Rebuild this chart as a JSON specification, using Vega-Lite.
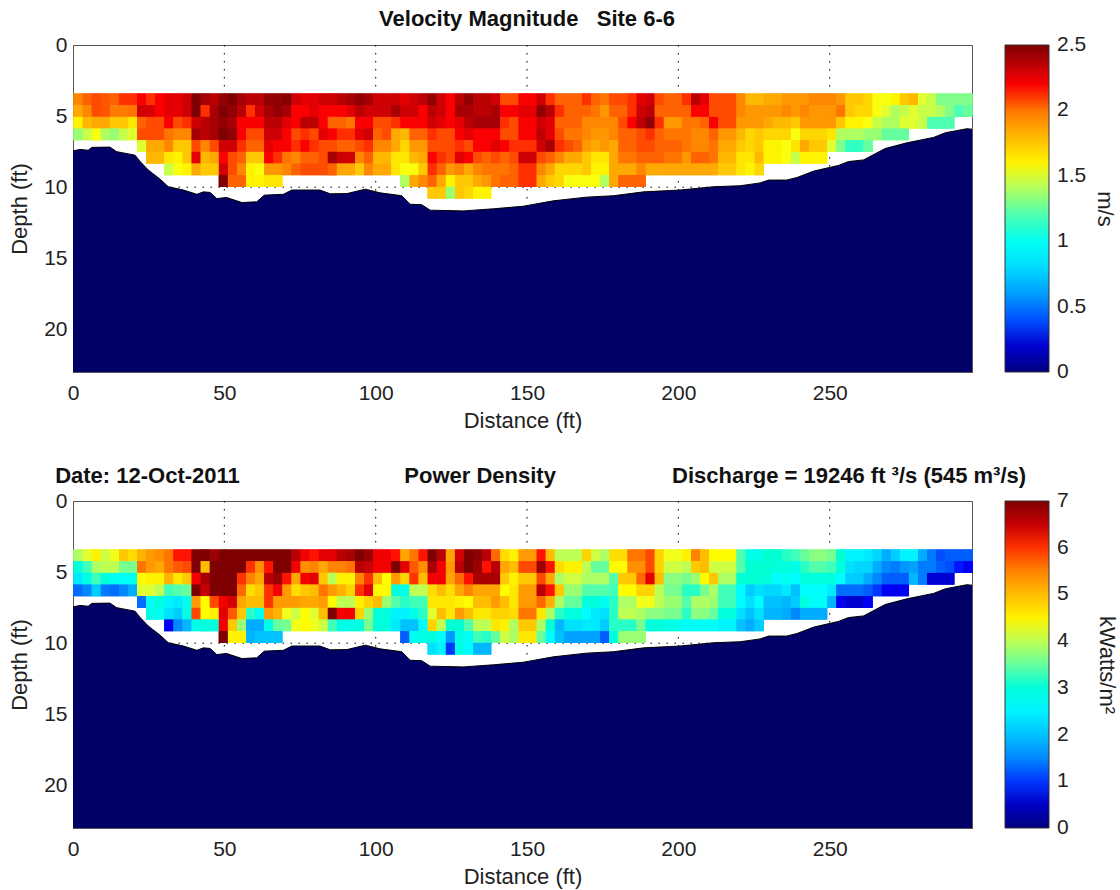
{"$schema":"https://vega.github.io/schema/vega-lite/v6.json","background":"white","padding":{"left":8,"top":7,"right":2,"bottom":5},"spacing":32,
"config":{"font":"Liberation Sans","view":{"stroke":"#555","strokeWidth":1},"axis":{"labelFontSize":21,"titleFontSize":22,"titleFontWeight":"normal","labelColor":"#222","titleColor":"#222","grid":false,"domainColor":"#555","tickColor":"#000","tickSize":0,"labelPadding":6,"labelFlush":false},"legend":{"labelFontSize":21,"titleFontSize":22,"titleFontWeight":"normal","labelColor":"#222","titleColor":"#222"}},
"datasets":{"cells":[
{"x":1.5,"d":3.79,"v":1.95,"p":3.9},{"x":4.5,"d":3.79,"v":2.05,"p":4.2},{"x":7.5,"d":3.79,"v":2.1,"p":4.5},{"x":10.5,"d":3.79,"v":2.08,"p":4.1},{"x":13.5,"d":3.79,"v":2.05,"p":4.3},{"x":16.5,"d":3.79,"v":2.15,"p":4.9},{"x":19.5,"d":3.79,"v":2.15,"p":4.7},{"x":22.5,"d":3.79,"v":2.2,"p":5.1},{"x":25.5,"d":3.79,"v":2.15,"p":5.3},{"x":28.5,"d":3.79,"v":2.2,"p":5.4},{"x":31.5,"d":3.79,"v":2.25,"p":5.6},{"x":34.5,"d":3.79,"v":2.25,"p":6.1},{"x":37.5,"d":3.79,"v":2.3,"p":6.1},{"x":40.5,"d":3.79,"v":2.5,"p":7},{"x":43.5,"d":3.79,"v":2.4,"p":7},{"x":46.5,"d":3.79,"v":2.35,"p":6.8},{"x":49.5,"d":3.79,"v":2.45,"p":7},{"x":52.5,"d":3.79,"v":2.5,"p":7},{"x":55.5,"d":3.79,"v":2.4,"p":7},{"x":58.5,"d":3.79,"v":2.35,"p":7},{"x":61.5,"d":3.79,"v":2.35,"p":7},{"x":64.5,"d":3.79,"v":2.45,"p":7},{"x":67.5,"d":3.79,"v":2.45,"p":7},{"x":70.5,"d":3.79,"v":2.48,"p":7},{"x":73.5,"d":3.79,"v":2.3,"p":6.6},{"x":76.5,"d":3.79,"v":2.25,"p":6.2},{"x":79.5,"d":3.79,"v":2.25,"p":6.1},{"x":82.5,"d":3.79,"v":2.3,"p":6.3},{"x":85.5,"d":3.79,"v":2.3,"p":6.3},{"x":88.5,"d":3.79,"v":2.35,"p":6.6},{"x":91.5,"d":3.79,"v":2.4,"p":6.7},{"x":94.5,"d":3.79,"v":2.45,"p":7},{"x":97.5,"d":3.79,"v":2.4,"p":6.8},{"x":100.5,"d":3.79,"v":2.3,"p":6.2},{"x":103.5,"d":3.79,"v":2.3,"p":6.2},{"x":106.5,"d":3.79,"v":2.3,"p":6.1},{"x":109.5,"d":3.79,"v":2.25,"p":5.2},{"x":112.5,"d":3.79,"v":2.3,"p":5.6},{"x":115.5,"d":3.79,"v":2.35,"p":6.1},{"x":118.5,"d":3.79,"v":2.45,"p":7},{"x":121.5,"d":3.79,"v":2.3,"p":6.6},{"x":124.5,"d":3.79,"v":2.2,"p":5.2},{"x":127.5,"d":3.79,"v":2.35,"p":6.4},{"x":130.5,"d":3.79,"v":2.45,"p":7},{"x":133.5,"d":3.79,"v":2.35,"p":6.9},{"x":136.5,"d":3.79,"v":2.35,"p":6.6},{"x":139.5,"d":3.79,"v":2.3,"p":5.7},{"x":142.5,"d":3.79,"v":2.1,"p":4.7},{"x":145.5,"d":3.79,"v":2.1,"p":4.5},{"x":148.5,"d":3.79,"v":2.2,"p":5.3},{"x":151.5,"d":3.79,"v":2.2,"p":5.3},{"x":154.5,"d":3.79,"v":2.3,"p":6.1},{"x":157.5,"d":3.79,"v":2.15,"p":5},{"x":160.5,"d":3.79,"v":2.05,"p":4},{"x":163.5,"d":3.79,"v":2.05,"p":4},{"x":166.5,"d":3.79,"v":2.05,"p":4},{"x":169.5,"d":3.79,"v":2.15,"p":4.8},{"x":172.5,"d":3.79,"v":2.05,"p":4.1},{"x":175.5,"d":3.79,"v":2,"p":3.9},{"x":178.5,"d":3.79,"v":2.1,"p":4.7},{"x":181.5,"d":3.79,"v":2.1,"p":4.7},{"x":184.5,"d":3.79,"v":2.15,"p":5.6},{"x":187.5,"d":3.79,"v":2.25,"p":5.6},{"x":190.5,"d":3.79,"v":2.3,"p":5.9},{"x":193.5,"d":3.79,"v":2.1,"p":4.8},{"x":196.5,"d":3.79,"v":2.05,"p":4.3},{"x":199.5,"d":3.79,"v":2.05,"p":4.3},{"x":202.5,"d":3.79,"v":2.15,"p":4.5},{"x":205.5,"d":3.79,"v":2.35,"p":5.5},{"x":208.5,"d":3.79,"v":2.25,"p":5},{"x":211.5,"d":3.79,"v":2.1,"p":4.4},{"x":214.5,"d":3.79,"v":2.1,"p":4.4},{"x":217.5,"d":3.79,"v":2.1,"p":4.4},{"x":220.5,"d":3.79,"v":1.95,"p":3.4},{"x":223.5,"d":3.79,"v":1.8,"p":2.9},{"x":226.5,"d":3.79,"v":1.8,"p":2.9},{"x":229.5,"d":3.79,"v":1.85,"p":3.1},{"x":232.5,"d":3.79,"v":1.85,"p":3.1},{"x":235.5,"d":3.79,"v":1.9,"p":3.2},{"x":238.5,"d":3.79,"v":1.9,"p":3.3},{"x":241.5,"d":3.79,"v":1.9,"p":3.5},{"x":244.5,"d":3.79,"v":1.95,"p":3.7},{"x":247.5,"d":3.79,"v":1.95,"p":3.7},{"x":250.5,"d":3.79,"v":1.95,"p":3.6},{"x":253.5,"d":3.79,"v":1.9,"p":3.1},{"x":256.5,"d":3.79,"v":1.75,"p":2.5},{"x":259.5,"d":3.79,"v":1.75,"p":2.5},{"x":262.5,"d":3.79,"v":1.7,"p":2.4},{"x":265.5,"d":3.79,"v":1.55,"p":2.2},{"x":268.5,"d":3.79,"v":1.55,"p":1.8},{"x":271.5,"d":3.79,"v":1.6,"p":2.1},{"x":274.5,"d":3.79,"v":1.75,"p":2.5},{"x":277.5,"d":3.79,"v":1.8,"p":2.5},{"x":280.5,"d":3.79,"v":1.5,"p":1.8},{"x":283.5,"d":3.79,"v":1.45,"p":1.4},{"x":286.5,"d":3.79,"v":1.3,"p":1.1},{"x":289.5,"d":3.79,"v":1.3,"p":1.2},{"x":292.5,"d":3.79,"v":1.3,"p":1.2},{"x":295.5,"d":3.79,"v":1.3,"p":1.2},
{"x":1.5,"d":4.61,"v":1.85,"p":3},{"x":4.5,"d":4.61,"v":1.95,"p":3.3},{"x":7.5,"d":4.61,"v":2.1,"p":3.9},{"x":10.5,"d":4.61,"v":2.08,"p":4},{"x":13.5,"d":4.61,"v":1.98,"p":4},{"x":16.5,"d":4.61,"v":1.98,"p":3.6},{"x":19.5,"d":4.61,"v":2,"p":3.6},{"x":22.5,"d":4.61,"v":2.3,"p":5.6},{"x":25.5,"d":4.61,"v":2.28,"p":5.3},{"x":28.5,"d":4.61,"v":2.2,"p":5.2},{"x":31.5,"d":4.61,"v":2.25,"p":5.6},{"x":34.5,"d":4.61,"v":2.25,"p":5.8},{"x":37.5,"d":4.61,"v":2.3,"p":5.9},{"x":40.5,"d":4.61,"v":2.5,"p":7},{"x":43.5,"d":4.61,"v":2.15,"p":5},{"x":46.5,"d":4.61,"v":2.4,"p":7},{"x":49.5,"d":4.61,"v":2.5,"p":7},{"x":52.5,"d":4.61,"v":2.45,"p":7},{"x":55.5,"d":4.61,"v":2.35,"p":7},{"x":58.5,"d":4.61,"v":2.15,"p":6},{"x":61.5,"d":4.61,"v":2.3,"p":5.4},{"x":64.5,"d":4.61,"v":2.4,"p":6.1},{"x":67.5,"d":4.61,"v":2.45,"p":7},{"x":70.5,"d":4.61,"v":2.4,"p":7},{"x":73.5,"d":4.61,"v":2.2,"p":6.2},{"x":76.5,"d":4.61,"v":2.2,"p":5.4},{"x":79.5,"d":4.61,"v":2.25,"p":5.5},{"x":82.5,"d":4.61,"v":2.2,"p":5.2},{"x":85.5,"d":4.61,"v":2.2,"p":5.5},{"x":88.5,"d":4.61,"v":2.2,"p":5.5},{"x":91.5,"d":4.61,"v":2.25,"p":5.6},{"x":94.5,"d":4.61,"v":2.35,"p":6.6},{"x":97.5,"d":4.61,"v":2.3,"p":6.5},{"x":100.5,"d":4.61,"v":2.3,"p":6.2},{"x":103.5,"d":4.61,"v":2.3,"p":6.2},{"x":106.5,"d":4.61,"v":2.4,"p":7},{"x":109.5,"d":4.61,"v":2.3,"p":6.3},{"x":112.5,"d":4.61,"v":2.3,"p":5.8},{"x":115.5,"d":4.61,"v":2.2,"p":5.4},{"x":118.5,"d":4.61,"v":2.35,"p":6.7},{"x":121.5,"d":4.61,"v":2.3,"p":6.2},{"x":124.5,"d":4.61,"v":2.2,"p":5.3},{"x":127.5,"d":4.61,"v":2.4,"p":6.6},{"x":130.5,"d":4.61,"v":2.4,"p":7},{"x":133.5,"d":4.61,"v":2.35,"p":6.8},{"x":136.5,"d":4.61,"v":2.35,"p":6.1},{"x":139.5,"d":4.61,"v":2.4,"p":6.6},{"x":142.5,"d":4.61,"v":2.2,"p":5.2},{"x":145.5,"d":4.61,"v":2.2,"p":5},{"x":148.5,"d":4.61,"v":2.25,"p":5.9},{"x":151.5,"d":4.61,"v":2.25,"p":5.9},{"x":154.5,"d":4.61,"v":2.45,"p":6.8},{"x":157.5,"d":4.61,"v":2.35,"p":6.1},{"x":160.5,"d":4.61,"v":2.15,"p":4.7},{"x":163.5,"d":4.61,"v":2.05,"p":4.5},{"x":166.5,"d":4.61,"v":2.05,"p":4.5},{"x":169.5,"d":4.61,"v":2.05,"p":4},{"x":172.5,"d":4.61,"v":2,"p":3.5},{"x":175.5,"d":4.61,"v":1.9,"p":3.5},{"x":178.5,"d":4.61,"v":2.05,"p":4.4},{"x":181.5,"d":4.61,"v":2.05,"p":4.4},{"x":184.5,"d":4.61,"v":2.15,"p":5.4},{"x":187.5,"d":4.61,"v":2.3,"p":5.4},{"x":190.5,"d":4.61,"v":2.35,"p":5.9},{"x":193.5,"d":4.61,"v":2.05,"p":4.8},{"x":196.5,"d":4.61,"v":2.05,"p":4.1},{"x":199.5,"d":4.61,"v":2.05,"p":4.1},{"x":202.5,"d":4.61,"v":2.05,"p":4},{"x":205.5,"d":4.61,"v":2.2,"p":4.9},{"x":208.5,"d":4.61,"v":2.2,"p":5},{"x":211.5,"d":4.61,"v":2.1,"p":4.1},{"x":214.5,"d":4.61,"v":2.1,"p":4.1},{"x":217.5,"d":4.61,"v":2.1,"p":4.1},{"x":220.5,"d":4.61,"v":1.95,"p":3.4},{"x":223.5,"d":4.61,"v":1.9,"p":3.1},{"x":226.5,"d":4.61,"v":1.9,"p":3.1},{"x":229.5,"d":4.61,"v":1.9,"p":3.1},{"x":232.5,"d":4.61,"v":1.9,"p":3},{"x":235.5,"d":4.61,"v":1.95,"p":3},{"x":238.5,"d":4.61,"v":1.9,"p":2.9},{"x":241.5,"d":4.61,"v":1.95,"p":3.2},{"x":244.5,"d":4.61,"v":1.9,"p":3.4},{"x":247.5,"d":4.61,"v":1.9,"p":3.4},{"x":250.5,"d":4.61,"v":1.9,"p":3.3},{"x":253.5,"d":4.61,"v":2,"p":3},{"x":256.5,"d":4.61,"v":1.75,"p":2.3},{"x":259.5,"d":4.61,"v":1.7,"p":2.2},{"x":262.5,"d":4.61,"v":1.7,"p":2.2},{"x":265.5,"d":4.61,"v":1.55,"p":1.8},{"x":268.5,"d":4.61,"v":1.5,"p":1.5},{"x":271.5,"d":4.61,"v":1.4,"p":1.4},{"x":274.5,"d":4.61,"v":1.45,"p":1.6},{"x":277.5,"d":4.61,"v":1.5,"p":1.7},{"x":280.5,"d":4.61,"v":1.45,"p":1.4},{"x":283.5,"d":4.61,"v":1.45,"p":1.4},{"x":286.5,"d":4.61,"v":1.4,"p":1.2},{"x":289.5,"d":4.61,"v":1.3,"p":1.1},{"x":292.5,"d":4.61,"v":1.2,"p":0.9},{"x":295.5,"d":4.61,"v":1.25,"p":0.8},
{"x":1.5,"d":5.43,"v":1.6,"p":2.4},{"x":4.5,"d":5.43,"v":1.8,"p":2.9},{"x":7.5,"d":5.43,"v":1.85,"p":3.3},{"x":10.5,"d":5.43,"v":1.85,"p":3},{"x":13.5,"d":5.43,"v":1.75,"p":2.8},{"x":16.5,"d":5.43,"v":1.75,"p":2.7},{"x":19.5,"d":5.43,"v":1.65,"p":2.8},{"x":22.5,"d":5.43,"v":2.05,"p":4.4},{"x":25.5,"d":5.43,"v":2.1,"p":4.5},{"x":28.5,"d":5.43,"v":2.1,"p":4.5},{"x":31.5,"d":5.43,"v":2.2,"p":5.1},{"x":34.5,"d":5.43,"v":2.1,"p":4.6},{"x":37.5,"d":5.43,"v":2.15,"p":4.9},{"x":40.5,"d":5.43,"v":2.3,"p":6.2},{"x":43.5,"d":5.43,"v":2.35,"p":6.7},{"x":46.5,"d":5.43,"v":2.4,"p":7},{"x":49.5,"d":5.43,"v":2.45,"p":7},{"x":52.5,"d":5.43,"v":2.4,"p":7},{"x":55.5,"d":5.43,"v":2.2,"p":6},{"x":58.5,"d":5.43,"v":2.2,"p":5.5},{"x":61.5,"d":5.43,"v":2.2,"p":5.2},{"x":64.5,"d":5.43,"v":2.35,"p":6.6},{"x":67.5,"d":5.43,"v":2.35,"p":6.8},{"x":70.5,"d":5.43,"v":2.25,"p":6.1},{"x":73.5,"d":5.43,"v":2.2,"p":5.2},{"x":76.5,"d":5.43,"v":2.35,"p":6.2},{"x":79.5,"d":5.43,"v":2.35,"p":6.3},{"x":82.5,"d":5.43,"v":2.2,"p":4.9},{"x":85.5,"d":5.43,"v":2.05,"p":4},{"x":88.5,"d":5.43,"v":2.05,"p":4.5},{"x":91.5,"d":5.43,"v":2,"p":4.5},{"x":94.5,"d":5.43,"v":2.2,"p":5.5},{"x":97.5,"d":5.43,"v":2.2,"p":6},{"x":100.5,"d":5.43,"v":2.1,"p":5},{"x":103.5,"d":5.43,"v":2.1,"p":4.4},{"x":106.5,"d":5.43,"v":2.15,"p":5.3},{"x":109.5,"d":5.43,"v":2.2,"p":4.8},{"x":112.5,"d":5.43,"v":2.2,"p":6},{"x":115.5,"d":5.43,"v":2.2,"p":5},{"x":118.5,"d":5.43,"v":2.3,"p":6.2},{"x":121.5,"d":5.43,"v":2.25,"p":6.2},{"x":124.5,"d":5.43,"v":2.2,"p":5.2},{"x":127.5,"d":5.43,"v":2.25,"p":5.7},{"x":130.5,"d":5.43,"v":2.35,"p":6.1},{"x":133.5,"d":5.43,"v":2.4,"p":6.7},{"x":136.5,"d":5.43,"v":2.4,"p":6.7},{"x":139.5,"d":5.43,"v":2.4,"p":6.7},{"x":142.5,"d":5.43,"v":2.15,"p":4.9},{"x":145.5,"d":5.43,"v":2.1,"p":4.5},{"x":148.5,"d":5.43,"v":2.2,"p":4.9},{"x":151.5,"d":5.43,"v":2.2,"p":4.9},{"x":154.5,"d":5.43,"v":2.3,"p":5.9},{"x":157.5,"d":5.43,"v":2.25,"p":5.2},{"x":160.5,"d":5.43,"v":2.05,"p":3.9},{"x":163.5,"d":5.43,"v":2.05,"p":4.1},{"x":166.5,"d":5.43,"v":2.05,"p":4.1},{"x":169.5,"d":5.43,"v":1.95,"p":3.9},{"x":172.5,"d":5.43,"v":1.95,"p":3.9},{"x":175.5,"d":5.43,"v":1.95,"p":3.9},{"x":178.5,"d":5.43,"v":1.95,"p":3.4},{"x":181.5,"d":5.43,"v":2.1,"p":4.9},{"x":184.5,"d":5.43,"v":2.2,"p":4.9},{"x":187.5,"d":5.43,"v":2.35,"p":5.7},{"x":190.5,"d":5.43,"v":2.45,"p":6.3},{"x":193.5,"d":5.43,"v":2.15,"p":5},{"x":196.5,"d":5.43,"v":1.9,"p":3.7},{"x":199.5,"d":5.43,"v":1.9,"p":3.7},{"x":202.5,"d":5.43,"v":2,"p":3.6},{"x":205.5,"d":5.43,"v":2,"p":3.8},{"x":208.5,"d":5.43,"v":2.05,"p":4.4},{"x":211.5,"d":5.43,"v":2.2,"p":4.9},{"x":214.5,"d":5.43,"v":2.1,"p":3.9},{"x":217.5,"d":5.43,"v":2.1,"p":3.9},{"x":220.5,"d":5.43,"v":1.9,"p":3.1},{"x":223.5,"d":5.43,"v":1.9,"p":3.1},{"x":226.5,"d":5.43,"v":1.9,"p":3.1},{"x":229.5,"d":5.43,"v":1.85,"p":3},{"x":232.5,"d":5.43,"v":1.8,"p":2.6},{"x":235.5,"d":5.43,"v":1.8,"p":2.8},{"x":238.5,"d":5.43,"v":1.75,"p":2.6},{"x":241.5,"d":5.43,"v":1.9,"p":3},{"x":244.5,"d":5.43,"v":1.9,"p":3},{"x":247.5,"d":5.43,"v":1.9,"p":3},{"x":250.5,"d":5.43,"v":1.9,"p":3},{"x":253.5,"d":5.43,"v":1.75,"p":2.6},{"x":256.5,"d":5.43,"v":1.6,"p":2.1},{"x":259.5,"d":5.43,"v":1.6,"p":2.1},{"x":262.5,"d":5.43,"v":1.55,"p":1.8},{"x":265.5,"d":5.43,"v":1.45,"p":1.5},{"x":268.5,"d":5.43,"v":1.4,"p":1.2},{"x":271.5,"d":5.43,"v":1.4,"p":1.2},{"x":274.5,"d":5.43,"v":1.5,"p":1.2},{"x":277.5,"d":5.43,"v":1.5,"p":1.9},{"x":280.5,"d":5.43,"v":1.45,"p":1.4},{"x":283.5,"d":5.43,"v":1.2,"p":0.6},{"x":286.5,"d":5.43,"v":1.2,"p":0.6},{"x":289.5,"d":5.43,"v":1.2,"p":0.6},
{"x":1.5,"d":6.25,"v":1.35,"p":1.3},{"x":4.5,"d":6.25,"v":1.45,"p":1.5},{"x":7.5,"d":6.25,"v":1.55,"p":2.1},{"x":10.5,"d":6.25,"v":1.4,"p":1.4},{"x":13.5,"d":6.25,"v":1.35,"p":1.3},{"x":16.5,"d":6.25,"v":1.45,"p":1.5},{"x":19.5,"d":6.25,"v":1.5,"p":1.8},{"x":22.5,"d":6.25,"v":2.1,"p":4.2},{"x":25.5,"d":6.25,"v":2.1,"p":4.2},{"x":28.5,"d":6.25,"v":2.1,"p":4},{"x":31.5,"d":6.25,"v":2,"p":3.3},{"x":34.5,"d":6.25,"v":1.95,"p":3.4},{"x":37.5,"d":6.25,"v":1.95,"p":3.5},{"x":40.5,"d":6.25,"v":2.4,"p":7},{"x":43.5,"d":6.25,"v":2.35,"p":6.5},{"x":46.5,"d":6.25,"v":2.4,"p":7},{"x":49.5,"d":6.25,"v":2.5,"p":7},{"x":52.5,"d":6.25,"v":2.45,"p":7},{"x":55.5,"d":6.25,"v":2.2,"p":5.7},{"x":58.5,"d":6.25,"v":2.1,"p":4.7},{"x":61.5,"d":6.25,"v":2.1,"p":4.9},{"x":64.5,"d":6.25,"v":2.3,"p":6},{"x":67.5,"d":6.25,"v":2.3,"p":6.2},{"x":70.5,"d":6.25,"v":2.2,"p":5.3},{"x":73.5,"d":6.25,"v":2.1,"p":4.7},{"x":76.5,"d":6.25,"v":2.15,"p":4.9},{"x":79.5,"d":6.25,"v":2.1,"p":5},{"x":82.5,"d":6.25,"v":2.25,"p":5.6},{"x":85.5,"d":6.25,"v":2.2,"p":5.3},{"x":88.5,"d":6.25,"v":2.15,"p":5.1},{"x":91.5,"d":6.25,"v":2.15,"p":4.8},{"x":94.5,"d":6.25,"v":2.25,"p":6},{"x":97.5,"d":6.25,"v":2.3,"p":6.3},{"x":100.5,"d":6.25,"v":2.05,"p":4.4},{"x":103.5,"d":6.25,"v":2.1,"p":4.4},{"x":106.5,"d":6.25,"v":1.85,"p":3},{"x":109.5,"d":6.25,"v":1.8,"p":2.9},{"x":112.5,"d":6.25,"v":2.05,"p":4},{"x":115.5,"d":6.25,"v":2.05,"p":4},{"x":118.5,"d":6.25,"v":2.15,"p":4.7},{"x":121.5,"d":6.25,"v":2.1,"p":5},{"x":124.5,"d":6.25,"v":2.1,"p":4.7},{"x":127.5,"d":6.25,"v":2.2,"p":5.2},{"x":130.5,"d":6.25,"v":2.25,"p":5.5},{"x":133.5,"d":6.25,"v":2.2,"p":5.2},{"x":136.5,"d":6.25,"v":2.2,"p":5.2},{"x":139.5,"d":6.25,"v":2.2,"p":5.2},{"x":142.5,"d":6.25,"v":2.1,"p":4.4},{"x":145.5,"d":6.25,"v":2.1,"p":4.6},{"x":148.5,"d":6.25,"v":2.2,"p":5.3},{"x":151.5,"d":6.25,"v":2.2,"p":5.3},{"x":154.5,"d":6.25,"v":2.35,"p":6.6},{"x":157.5,"d":6.25,"v":2.25,"p":6.1},{"x":160.5,"d":6.25,"v":2.1,"p":4.9},{"x":163.5,"d":6.25,"v":2,"p":3.8},{"x":166.5,"d":6.25,"v":2,"p":3.8},{"x":169.5,"d":6.25,"v":1.95,"p":3.4},{"x":172.5,"d":6.25,"v":1.9,"p":3.4},{"x":175.5,"d":6.25,"v":1.9,"p":3.4},{"x":178.5,"d":6.25,"v":1.95,"p":3.3},{"x":181.5,"d":6.25,"v":2.05,"p":4.4},{"x":184.5,"d":6.25,"v":2.05,"p":4.4},{"x":187.5,"d":6.25,"v":2.1,"p":4.8},{"x":190.5,"d":6.25,"v":2.15,"p":4.8},{"x":193.5,"d":6.25,"v":2.05,"p":4},{"x":196.5,"d":6.25,"v":2,"p":3.6},{"x":199.5,"d":6.25,"v":2,"p":3.6},{"x":202.5,"d":6.25,"v":2,"p":3.2},{"x":205.5,"d":6.25,"v":1.95,"p":3.2},{"x":208.5,"d":6.25,"v":1.95,"p":3.6},{"x":211.5,"d":6.25,"v":2.05,"p":3.9},{"x":214.5,"d":6.25,"v":1.9,"p":3.3},{"x":217.5,"d":6.25,"v":1.9,"p":3.3},{"x":220.5,"d":6.25,"v":1.8,"p":2.6},{"x":223.5,"d":6.25,"v":1.7,"p":2.1},{"x":226.5,"d":6.25,"v":1.75,"p":2.3},{"x":229.5,"d":6.25,"v":1.7,"p":2.2},{"x":232.5,"d":6.25,"v":1.7,"p":2.2},{"x":235.5,"d":6.25,"v":1.7,"p":2.4},{"x":238.5,"d":6.25,"v":1.55,"p":2},{"x":241.5,"d":6.25,"v":1.7,"p":2.6},{"x":244.5,"d":6.25,"v":1.7,"p":2.6},{"x":247.5,"d":6.25,"v":1.7,"p":2.6},{"x":250.5,"d":6.25,"v":1.65,"p":2.4},{"x":253.5,"d":6.25,"v":1.4,"p":1.3},{"x":256.5,"d":6.25,"v":1.4,"p":1.3},{"x":259.5,"d":6.25,"v":1.4,"p":1.3},{"x":262.5,"d":6.25,"v":1.35,"p":1.2},{"x":265.5,"d":6.25,"v":1.35,"p":1},{"x":268.5,"d":6.25,"v":1.25,"p":0.8},{"x":271.5,"d":6.25,"v":1.25,"p":0.8},{"x":274.5,"d":6.25,"v":1.25,"p":0.8},
{"x":22.5,"d":7.07,"v":1.5,"p":1.3},{"x":25.5,"d":7.07,"v":1.85,"p":2.8},{"x":28.5,"d":7.07,"v":1.85,"p":3},{"x":31.5,"d":7.07,"v":1.95,"p":2.5},{"x":34.5,"d":7.07,"v":1.75,"p":2.4},{"x":37.5,"d":7.07,"v":1.75,"p":2.8},{"x":40.5,"d":7.07,"v":2.1,"p":5.3},{"x":43.5,"d":7.07,"v":1.95,"p":4.4},{"x":46.5,"d":7.07,"v":2.1,"p":5.9},{"x":49.5,"d":7.07,"v":2.3,"p":6.2},{"x":52.5,"d":7.07,"v":2.3,"p":6.4},{"x":55.5,"d":7.07,"v":2.15,"p":5.2},{"x":58.5,"d":7.07,"v":2.05,"p":5},{"x":61.5,"d":7.07,"v":2.05,"p":5},{"x":64.5,"d":7.07,"v":2.25,"p":6},{"x":67.5,"d":7.07,"v":2.2,"p":5.3},{"x":70.5,"d":7.07,"v":2.2,"p":5.3},{"x":73.5,"d":7.07,"v":2.15,"p":5.3},{"x":76.5,"d":7.07,"v":2.2,"p":5.2},{"x":79.5,"d":7.07,"v":2.15,"p":5.2},{"x":82.5,"d":7.07,"v":2.1,"p":5.3},{"x":85.5,"d":7.07,"v":2.1,"p":4.4},{"x":88.5,"d":7.07,"v":2.05,"p":4},{"x":91.5,"d":7.07,"v":2.05,"p":4},{"x":94.5,"d":7.07,"v":2.1,"p":4.5},{"x":97.5,"d":7.07,"v":2.15,"p":4.8},{"x":100.5,"d":7.07,"v":1.95,"p":5},{"x":103.5,"d":7.07,"v":1.95,"p":3.8},{"x":106.5,"d":7.07,"v":1.85,"p":3.4},{"x":109.5,"d":7.07,"v":1.7,"p":3.2},{"x":112.5,"d":7.07,"v":1.9,"p":3.3},{"x":115.5,"d":7.07,"v":1.9,"p":3.3},{"x":118.5,"d":7.07,"v":2.1,"p":4.6},{"x":121.5,"d":7.07,"v":2.1,"p":4.6},{"x":124.5,"d":7.07,"v":2.1,"p":4.6},{"x":127.5,"d":7.07,"v":2.15,"p":4.5},{"x":130.5,"d":7.07,"v":2.1,"p":4.4},{"x":133.5,"d":7.07,"v":2.2,"p":5},{"x":136.5,"d":7.07,"v":2.2,"p":5},{"x":139.5,"d":7.07,"v":2.25,"p":5.3},{"x":142.5,"d":7.07,"v":2.2,"p":5},{"x":145.5,"d":7.07,"v":2.15,"p":4.6},{"x":148.5,"d":7.07,"v":2.15,"p":5.3},{"x":151.5,"d":7.07,"v":2.15,"p":5.3},{"x":154.5,"d":7.07,"v":2.3,"p":5.7},{"x":157.5,"d":7.07,"v":2.4,"p":5.1},{"x":160.5,"d":7.07,"v":2.15,"p":3.9},{"x":163.5,"d":7.07,"v":2.1,"p":3.5},{"x":166.5,"d":7.07,"v":2.05,"p":3.5},{"x":169.5,"d":7.07,"v":1.9,"p":3},{"x":172.5,"d":7.07,"v":1.85,"p":3},{"x":175.5,"d":7.07,"v":1.9,"p":2.8},{"x":178.5,"d":7.07,"v":1.85,"p":3.2},{"x":181.5,"d":7.07,"v":2.05,"p":3.9},{"x":184.5,"d":7.07,"v":2.05,"p":3.9},{"x":187.5,"d":7.07,"v":2.1,"p":4.3},{"x":190.5,"d":7.07,"v":2.1,"p":4.3},{"x":193.5,"d":7.07,"v":2.05,"p":4},{"x":196.5,"d":7.07,"v":2.05,"p":3.8},{"x":199.5,"d":7.07,"v":2.05,"p":3.8},{"x":202.5,"d":7.07,"v":2,"p":3.4},{"x":205.5,"d":7.07,"v":1.95,"p":3.9},{"x":208.5,"d":7.07,"v":1.95,"p":3.9},{"x":211.5,"d":7.07,"v":2,"p":3.8},{"x":214.5,"d":7.07,"v":1.85,"p":3.3},{"x":217.5,"d":7.07,"v":1.85,"p":3.3},{"x":220.5,"d":7.07,"v":1.75,"p":2.6},{"x":223.5,"d":7.07,"v":1.7,"p":2.3},{"x":226.5,"d":7.07,"v":1.75,"p":2.6},{"x":229.5,"d":7.07,"v":1.6,"p":2},{"x":232.5,"d":7.07,"v":1.6,"p":2},{"x":235.5,"d":7.07,"v":1.55,"p":1.9},{"x":238.5,"d":7.07,"v":1.65,"p":2.1},{"x":241.5,"d":7.07,"v":1.85,"p":3},{"x":244.5,"d":7.07,"v":1.75,"p":2.7},{"x":247.5,"d":7.07,"v":1.75,"p":2.7},{"x":250.5,"d":7.07,"v":1.5,"p":1.9},{"x":253.5,"d":7.07,"v":1.3,"p":0.8},{"x":256.5,"d":7.07,"v":1.15,"p":0.55},{"x":259.5,"d":7.07,"v":1.15,"p":0.55},{"x":262.5,"d":7.07,"v":1.25,"p":0.8},
{"x":25.5,"d":7.89,"v":1.8,"p":2.9},{"x":28.5,"d":7.89,"v":1.8,"p":2.8},{"x":31.5,"d":7.89,"v":1.65,"p":2.3},{"x":34.5,"d":7.89,"v":1.6,"p":2.1},{"x":37.5,"d":7.89,"v":1.75,"p":2.9},{"x":40.5,"d":7.89,"v":2.25,"p":5.9},{"x":43.5,"d":7.89,"v":1.8,"p":4.4},{"x":46.5,"d":7.89,"v":1.85,"p":4.5},{"x":49.5,"d":7.89,"v":2.2,"p":6.3},{"x":52.5,"d":7.89,"v":2.1,"p":5.8},{"x":55.5,"d":7.89,"v":2.05,"p":4.9},{"x":58.5,"d":7.89,"v":1.75,"p":3.2},{"x":61.5,"d":7.89,"v":1.75,"p":2.8},{"x":64.5,"d":7.89,"v":2.2,"p":5.3},{"x":67.5,"d":7.89,"v":2.15,"p":5.1},{"x":70.5,"d":7.89,"v":2,"p":4.3},{"x":73.5,"d":7.89,"v":1.95,"p":4.1},{"x":76.5,"d":7.89,"v":2.05,"p":4.4},{"x":79.5,"d":7.89,"v":2.05,"p":4.2},{"x":82.5,"d":7.89,"v":2.1,"p":5},{"x":85.5,"d":7.89,"v":2.4,"p":7},{"x":88.5,"d":7.89,"v":2.3,"p":6.2},{"x":91.5,"d":7.89,"v":2.3,"p":6.2},{"x":94.5,"d":7.89,"v":1.95,"p":4.8},{"x":97.5,"d":7.89,"v":2.05,"p":3.8},{"x":100.5,"d":7.89,"v":1.8,"p":3},{"x":103.5,"d":7.89,"v":1.8,"p":3},{"x":106.5,"d":7.89,"v":1.65,"p":2.5},{"x":109.5,"d":7.89,"v":1.65,"p":2.5},{"x":112.5,"d":7.89,"v":1.8,"p":2.9},{"x":115.5,"d":7.89,"v":1.85,"p":3.2},{"x":118.5,"d":7.89,"v":2.2,"p":4.2},{"x":121.5,"d":7.89,"v":2.15,"p":5},{"x":124.5,"d":7.89,"v":2.1,"p":4.6},{"x":127.5,"d":7.89,"v":2.25,"p":5.3},{"x":130.5,"d":7.89,"v":2.2,"p":5},{"x":133.5,"d":7.89,"v":2.1,"p":4.6},{"x":136.5,"d":7.89,"v":2.05,"p":4.6},{"x":139.5,"d":7.89,"v":2.1,"p":4.8},{"x":142.5,"d":7.89,"v":2.05,"p":4.8},{"x":145.5,"d":7.89,"v":2.1,"p":4.7},{"x":148.5,"d":7.89,"v":2.3,"p":5.6},{"x":151.5,"d":7.89,"v":2.3,"p":5.6},{"x":154.5,"d":7.89,"v":2.1,"p":4.6},{"x":157.5,"d":7.89,"v":2.05,"p":3.9},{"x":160.5,"d":7.89,"v":1.95,"p":3.2},{"x":163.5,"d":7.89,"v":1.85,"p":3},{"x":166.5,"d":7.89,"v":1.85,"p":3},{"x":169.5,"d":7.89,"v":1.75,"p":2.6},{"x":172.5,"d":7.89,"v":1.65,"p":2.4},{"x":175.5,"d":7.89,"v":1.65,"p":2.3},{"x":178.5,"d":7.89,"v":1.85,"p":3.2},{"x":181.5,"d":7.89,"v":2,"p":4},{"x":184.5,"d":7.89,"v":2,"p":4},{"x":187.5,"d":7.89,"v":2.05,"p":3.9},{"x":190.5,"d":7.89,"v":2.05,"p":3.7},{"x":193.5,"d":7.89,"v":2.05,"p":3.7},{"x":196.5,"d":7.89,"v":2,"p":3.6},{"x":199.5,"d":7.89,"v":2,"p":3.6},{"x":202.5,"d":7.89,"v":1.9,"p":3.2},{"x":205.5,"d":7.89,"v":2.05,"p":3.7},{"x":208.5,"d":7.89,"v":2.05,"p":3.7},{"x":211.5,"d":7.89,"v":2,"p":3.5},{"x":214.5,"d":7.89,"v":1.8,"p":3},{"x":217.5,"d":7.89,"v":1.8,"p":3},{"x":220.5,"d":7.89,"v":1.65,"p":2.3},{"x":223.5,"d":7.89,"v":1.65,"p":2},{"x":226.5,"d":7.89,"v":1.8,"p":2.3},{"x":229.5,"d":7.89,"v":1.6,"p":1.9},{"x":232.5,"d":7.89,"v":1.6,"p":1.9},{"x":235.5,"d":7.89,"v":1.55,"p":1.8},{"x":238.5,"d":7.89,"v":1.45,"p":1.5},{"x":241.5,"d":7.89,"v":1.6,"p":1.8},{"x":244.5,"d":7.89,"v":1.6,"p":1.8},{"x":247.5,"d":7.89,"v":1.6,"p":1.8},
{"x":31.5,"d":8.71,"v":1.45,"p":0.8},{"x":34.5,"d":8.71,"v":1.55,"p":1.5},{"x":37.5,"d":8.71,"v":1.6,"p":1.9},{"x":40.5,"d":8.71,"v":1.85,"p":2.9},{"x":43.5,"d":8.71,"v":1.75,"p":3},{"x":46.5,"d":8.71,"v":1.75,"p":3},{"x":49.5,"d":8.71,"v":2.3,"p":6.2},{"x":52.5,"d":8.71,"v":2.1,"p":4.9},{"x":55.5,"d":8.71,"v":1.95,"p":3.8},{"x":58.5,"d":8.71,"v":1.6,"p":1.8},{"x":61.5,"d":8.71,"v":1.55,"p":1.8},{"x":64.5,"d":8.71,"v":1.9,"p":2.9},{"x":67.5,"d":8.71,"v":1.9,"p":3.5},{"x":70.5,"d":8.71,"v":1.95,"p":3.6},{"x":73.5,"d":8.71,"v":2.05,"p":4.3},{"x":76.5,"d":8.71,"v":2.1,"p":4.4},{"x":79.5,"d":8.71,"v":2.1,"p":4.3},{"x":82.5,"d":8.71,"v":2.1,"p":4.1},{"x":85.5,"d":8.71,"v":2.05,"p":3.3},{"x":88.5,"d":8.71,"v":1.85,"p":2.9},{"x":91.5,"d":8.71,"v":1.85,"p":2.9},{"x":94.5,"d":8.71,"v":1.75,"p":3},{"x":97.5,"d":8.71,"v":1.95,"p":3.6},{"x":100.5,"d":8.71,"v":1.85,"p":3},{"x":103.5,"d":8.71,"v":1.85,"p":3},{"x":106.5,"d":8.71,"v":1.65,"p":2.4},{"x":109.5,"d":8.71,"v":1.55,"p":2},{"x":112.5,"d":8.71,"v":1.55,"p":2},{"x":115.5,"d":8.71,"v":1.75,"p":2.6},{"x":118.5,"d":8.71,"v":2.15,"p":4.8},{"x":121.5,"d":8.71,"v":2.05,"p":4},{"x":124.5,"d":8.71,"v":1.9,"p":3.1},{"x":127.5,"d":8.71,"v":1.95,"p":3.1},{"x":130.5,"d":8.71,"v":1.85,"p":3.4},{"x":133.5,"d":8.71,"v":1.95,"p":4},{"x":136.5,"d":8.71,"v":2,"p":4},{"x":139.5,"d":8.71,"v":2,"p":4.6},{"x":142.5,"d":8.71,"v":2,"p":4.5},{"x":145.5,"d":8.71,"v":2.05,"p":3.9},{"x":148.5,"d":8.71,"v":2.15,"p":4.9},{"x":151.5,"d":8.71,"v":2.15,"p":4.9},{"x":154.5,"d":8.71,"v":1.95,"p":3.9},{"x":157.5,"d":8.71,"v":1.85,"p":3.1},{"x":160.5,"d":8.71,"v":1.7,"p":1.9},{"x":163.5,"d":8.71,"v":1.7,"p":2.3},{"x":166.5,"d":8.71,"v":1.7,"p":2.3},{"x":169.5,"d":8.71,"v":1.75,"p":2.4},{"x":172.5,"d":8.71,"v":1.6,"p":2.4},{"x":175.5,"d":8.71,"v":1.6,"p":2.1},{"x":178.5,"d":8.71,"v":1.85,"p":3.2},{"x":181.5,"d":8.71,"v":1.85,"p":3.2},{"x":184.5,"d":8.71,"v":1.85,"p":3.2},{"x":187.5,"d":8.71,"v":1.95,"p":3.6},{"x":190.5,"d":8.71,"v":1.85,"p":3},{"x":193.5,"d":8.71,"v":1.85,"p":3},{"x":196.5,"d":8.71,"v":1.85,"p":2.9},{"x":199.5,"d":8.71,"v":1.85,"p":2.9},{"x":202.5,"d":8.71,"v":1.85,"p":2.7},{"x":205.5,"d":8.71,"v":1.85,"p":2.7},{"x":208.5,"d":8.71,"v":1.85,"p":2.7},{"x":211.5,"d":8.71,"v":1.85,"p":2.7},{"x":214.5,"d":8.71,"v":1.75,"p":2.5},{"x":217.5,"d":8.71,"v":1.75,"p":2.5},{"x":220.5,"d":8.71,"v":1.65,"p":2},{"x":223.5,"d":8.71,"v":1.6,"p":1.8},{"x":226.5,"d":8.71,"v":1.7,"p":2.1},
{"x":49.5,"d":9.53,"v":2.5,"p":7},{"x":52.5,"d":9.53,"v":2.05,"p":4.5},{"x":55.5,"d":9.53,"v":2.05,"p":4.5},{"x":58.5,"d":9.53,"v":1.6,"p":1.9},{"x":61.5,"d":9.53,"v":1.6,"p":2},{"x":64.5,"d":9.53,"v":1.65,"p":2},{"x":67.5,"d":9.53,"v":1.65,"p":2},{"x":109.5,"d":9.53,"v":1.4,"p":1.2},{"x":112.5,"d":9.53,"v":1.85,"p":2.8},{"x":115.5,"d":9.53,"v":1.95,"p":2.9},{"x":118.5,"d":9.53,"v":2.05,"p":3},{"x":121.5,"d":9.53,"v":1.85,"p":2.6},{"x":124.5,"d":9.53,"v":1.6,"p":1.6},{"x":127.5,"d":9.53,"v":1.75,"p":2.9},{"x":130.5,"d":9.53,"v":1.75,"p":2.8},{"x":133.5,"d":9.53,"v":1.85,"p":3.3},{"x":136.5,"d":9.53,"v":1.9,"p":3.2},{"x":139.5,"d":9.53,"v":2,"p":3.5},{"x":142.5,"d":9.53,"v":2.05,"p":4.1},{"x":145.5,"d":9.53,"v":2.05,"p":3.9},{"x":148.5,"d":9.53,"v":2.15,"p":4.6},{"x":151.5,"d":9.53,"v":2.15,"p":4.6},{"x":154.5,"d":9.53,"v":1.85,"p":3.5},{"x":157.5,"d":9.53,"v":1.75,"p":2.6},{"x":160.5,"d":9.53,"v":1.7,"p":2},{"x":163.5,"d":9.53,"v":1.55,"p":1.7},{"x":166.5,"d":9.53,"v":1.55,"p":1.7},{"x":169.5,"d":9.53,"v":1.55,"p":1.7},{"x":172.5,"d":9.53,"v":1.55,"p":1.7},{"x":175.5,"d":9.53,"v":1.4,"p":1.2},{"x":178.5,"d":9.53,"v":1.85,"p":3},{"x":181.5,"d":9.53,"v":2.05,"p":3.8},{"x":184.5,"d":9.53,"v":2.05,"p":3.8},{"x":187.5,"d":9.53,"v":2.05,"p":3.8},
{"x":118.5,"d":10.35,"v":1.75,"p":2.3},{"x":121.5,"d":10.35,"v":1.75,"p":2.5},{"x":124.5,"d":10.35,"v":1.35,"p":1},{"x":127.5,"d":10.35,"v":1.75,"p":2.9},{"x":130.5,"d":10.35,"v":1.7,"p":2.6},{"x":133.5,"d":10.35,"v":1.6,"p":1.9},{"x":136.5,"d":10.35,"v":1.6,"p":1.9}
],
"bed":[{"x":0,"b":7.44},{"x":2.3,"b":7.35},{"x":5,"b":7.4},{"x":6.3,"b":7.2},{"x":12.2,"b":7.18},{"x":14.4,"b":7.5},{"x":20.5,"b":7.75},{"x":22.2,"b":8.2},{"x":24.9,"b":8.8},{"x":28.8,"b":9.44},{"x":31.5,"b":9.97},{"x":36.5,"b":10.2},{"x":40.9,"b":10.5},{"x":43.1,"b":10.33},{"x":45.3,"b":10.37},{"x":47.5,"b":10.8},{"x":50.8,"b":10.73},{"x":55.8,"b":11.08},{"x":60.7,"b":11.03},{"x":63.2,"b":10.56},{"x":69.5,"b":10.5},{"x":72.3,"b":10.2},{"x":81.6,"b":10.2},{"x":85,"b":10.47},{"x":90.5,"b":10.45},{"x":96.6,"b":10.14},{"x":101.5,"b":10.4},{"x":108.6,"b":10.6},{"x":111.4,"b":11.2},{"x":115.2,"b":11.23},{"x":118,"b":11.62},{"x":129,"b":11.67},{"x":138.9,"b":11.52},{"x":148.8,"b":11.34},{"x":158.7,"b":10.96},{"x":169.7,"b":10.7},{"x":178.6,"b":10.6},{"x":188.5,"b":10.33},{"x":200.6,"b":10.2},{"x":211.6,"b":9.97},{"x":220.4,"b":9.9},{"x":227,"b":9.7},{"x":229.8,"b":9.5},{"x":235.8,"b":9.5},{"x":239.2,"b":9.32},{"x":244.7,"b":8.87},{"x":252.9,"b":8.47},{"x":256.2,"b":8.2},{"x":261.2,"b":8.08},{"x":268.3,"b":7.28},{"x":275.5,"b":6.88},{"x":284.3,"b":6.5},{"x":288.2,"b":6.17},{"x":295.3,"b":5.89},{"x":297,"b":5.92}],
"gx":[{"g":50},{"g":100},{"g":150},{"g":200},{"g":250}],"gy":[{"g":5},{"g":10},{"g":15},{"g":20}],
"t1":[{"x":150,"y":-1.83,"s":"Velocity Magnitude\u00a0\u00a0\u00a0Site 6-6"}],
"t2":[{"x":24.6,"y":-1.76,"s":"Date: 12-Oct-2011"},{"x":134.5,"y":-1.76,"s":"Power Density"},{"x":256.4,"y":-1.76,"s":"Discharge = 19246 ft ³/s (545 m³/s)"}]},
"vconcat":[
{"width":899,"height":327,"layer":[
{"data":{"name":"gx"},"mark":{"type":"rule","color":"#000","strokeDash":[1.5,6.5],"strokeWidth":1},"encoding":{"x":{"field":"g","type":"quantitative","scale":{"domain":[0,297],"nice":false}}}},
{"data":{"name":"gy"},"mark":{"type":"rule","color":"#000","strokeDash":[1.5,6.5],"strokeWidth":1},"encoding":{"y":{"field":"g","type":"quantitative","scale":{"domain":[23,0],"nice":false}}}},
{"data":{"name":"cells"},"mark":{"type":"rect"},"encoding":{"x":{"field":"x","type":"quantitative","bin":{"step":3,"extent":[0,297],"nice":false},"scale":{"domain":[0,297],"nice":false},"axis":{"values":[0,50,100,150,200,250],"title":"Distance (ft)","format":"d","labelPadding":10,"titlePadding":7}},"y":{"field":"d","type":"quantitative","bin":{"step":0.82,"extent":[3.38,10.76],"nice":false},"scale":{"domain":[23,0],"nice":false},"axis":{"values":[0,5,10,15,20],"title":"Depth (ft)","format":"d","titlePadding":12}},"color":{"field":"v","type":"quantitative","scale":{"domain":[0,0.3125,0.9375,1.5625,2.1875,2.5],"range":["#00007f","#0000ff","#00ffff","#ffff00","#ff0000","#7f0000"]},"legend":{"orient":"none","legendX":932,"legendY":0,"title":"m/s","format":"~g","gradientLength":327,"gradientThickness":44,"values":[0,0.5,1,1.5,2,2.5],"labelOffset":8,"titleOrient":"right","titleAngle":270,"titlePadding":7,"gradientStrokeColor":"#333","gradientStrokeWidth":1,"titleAnchor":"middle","encode":{"labels":{"update":{"baseline":{"value":"middle"}}}}}}}},
{"data":{"name":"cells"},"mark":{"type":"rect"},"encoding":{"x":{"field":"x","type":"quantitative","bin":{"step":3,"extent":[0,297],"nice":false}},"y":{"field":"d","type":"quantitative","bin":{"step":0.82,"extent":[3.38,10.76],"nice":false}},"color":{"field":"v","type":"quantitative"}}},
{"data":{"name":"cells"},"mark":{"type":"rect"},"encoding":{"x":{"field":"x","type":"quantitative","bin":{"step":3,"extent":[0,297],"nice":false}},"y":{"field":"d","type":"quantitative","bin":{"step":0.82,"extent":[3.38,10.76],"nice":false}},"color":{"field":"v","type":"quantitative"}}},
{"data":{"name":"bed"},"mark":{"type":"area","color":"#000066","opacity":1},"encoding":{"x":{"field":"x","type":"quantitative"},"y":{"field":"b","type":"quantitative"},"y2":{"datum":23}}},
{"data":{"name":"bed"},"mark":{"type":"line","color":"#000","strokeWidth":1},"encoding":{"x":{"field":"x","type":"quantitative"},"y":{"field":"b","type":"quantitative"}}},
{"data":{"name":"t1"},"mark":{"type":"text","fontSize":22,"fontWeight":"bold","color":"#111"},"encoding":{"x":{"field":"x","type":"quantitative"},"y":{"field":"y","type":"quantitative"},"text":{"field":"s"}}}
]},
{"width":899,"height":327,"layer":[
{"data":{"name":"gx"},"mark":{"type":"rule","color":"#000","strokeDash":[1.5,6.5],"strokeWidth":1},"encoding":{"x":{"field":"g","type":"quantitative","scale":{"domain":[0,297],"nice":false}}}},
{"data":{"name":"gy"},"mark":{"type":"rule","color":"#000","strokeDash":[1.5,6.5],"strokeWidth":1},"encoding":{"y":{"field":"g","type":"quantitative","scale":{"domain":[23,0],"nice":false}}}},
{"data":{"name":"cells"},"mark":{"type":"rect"},"encoding":{"x":{"field":"x","type":"quantitative","bin":{"step":3,"extent":[0,297],"nice":false},"scale":{"domain":[0,297],"nice":false},"axis":{"values":[0,50,100,150,200,250],"title":"Distance (ft)","format":"d","labelPadding":10,"titlePadding":7}},"y":{"field":"d","type":"quantitative","bin":{"step":0.82,"extent":[3.38,10.76],"nice":false},"scale":{"domain":[23,0],"nice":false},"axis":{"values":[0,5,10,15,20],"title":"Depth (ft)","format":"d","titlePadding":12}},"color":{"field":"p","type":"quantitative","scale":{"domain":[0,0.875,2.625,4.375,6.125,7],"range":["#00007f","#0000ff","#00ffff","#ffff00","#ff0000","#7f0000"]},"legend":{"orient":"none","legendX":932,"legendY":0,"title":"kWatts/m²","format":"d","gradientLength":327,"gradientThickness":44,"values":[0,1,2,3,4,5,6,7],"labelOffset":8,"titleOrient":"right","titleAngle":270,"titlePadding":26,"gradientStrokeColor":"#333","gradientStrokeWidth":1,"titleAnchor":"middle","encode":{"labels":{"update":{"baseline":{"value":"middle"}}}}}}}},
{"data":{"name":"cells"},"mark":{"type":"rect"},"encoding":{"x":{"field":"x","type":"quantitative","bin":{"step":3,"extent":[0,297],"nice":false}},"y":{"field":"d","type":"quantitative","bin":{"step":0.82,"extent":[3.38,10.76],"nice":false}},"color":{"field":"p","type":"quantitative"}}},
{"data":{"name":"cells"},"mark":{"type":"rect"},"encoding":{"x":{"field":"x","type":"quantitative","bin":{"step":3,"extent":[0,297],"nice":false}},"y":{"field":"d","type":"quantitative","bin":{"step":0.82,"extent":[3.38,10.76],"nice":false}},"color":{"field":"p","type":"quantitative"}}},
{"data":{"name":"bed"},"mark":{"type":"area","color":"#000066","opacity":1},"encoding":{"x":{"field":"x","type":"quantitative"},"y":{"field":"b","type":"quantitative"},"y2":{"datum":23}}},
{"data":{"name":"bed"},"mark":{"type":"line","color":"#000","strokeWidth":1},"encoding":{"x":{"field":"x","type":"quantitative"},"y":{"field":"b","type":"quantitative"}}},
{"data":{"name":"t2"},"mark":{"type":"text","fontSize":22,"fontWeight":"bold","color":"#111"},"encoding":{"x":{"field":"x","type":"quantitative"},"y":{"field":"y","type":"quantitative"},"text":{"field":"s"}}}
]}
],"resolve":{"scale":{"color":"independent"}}}
